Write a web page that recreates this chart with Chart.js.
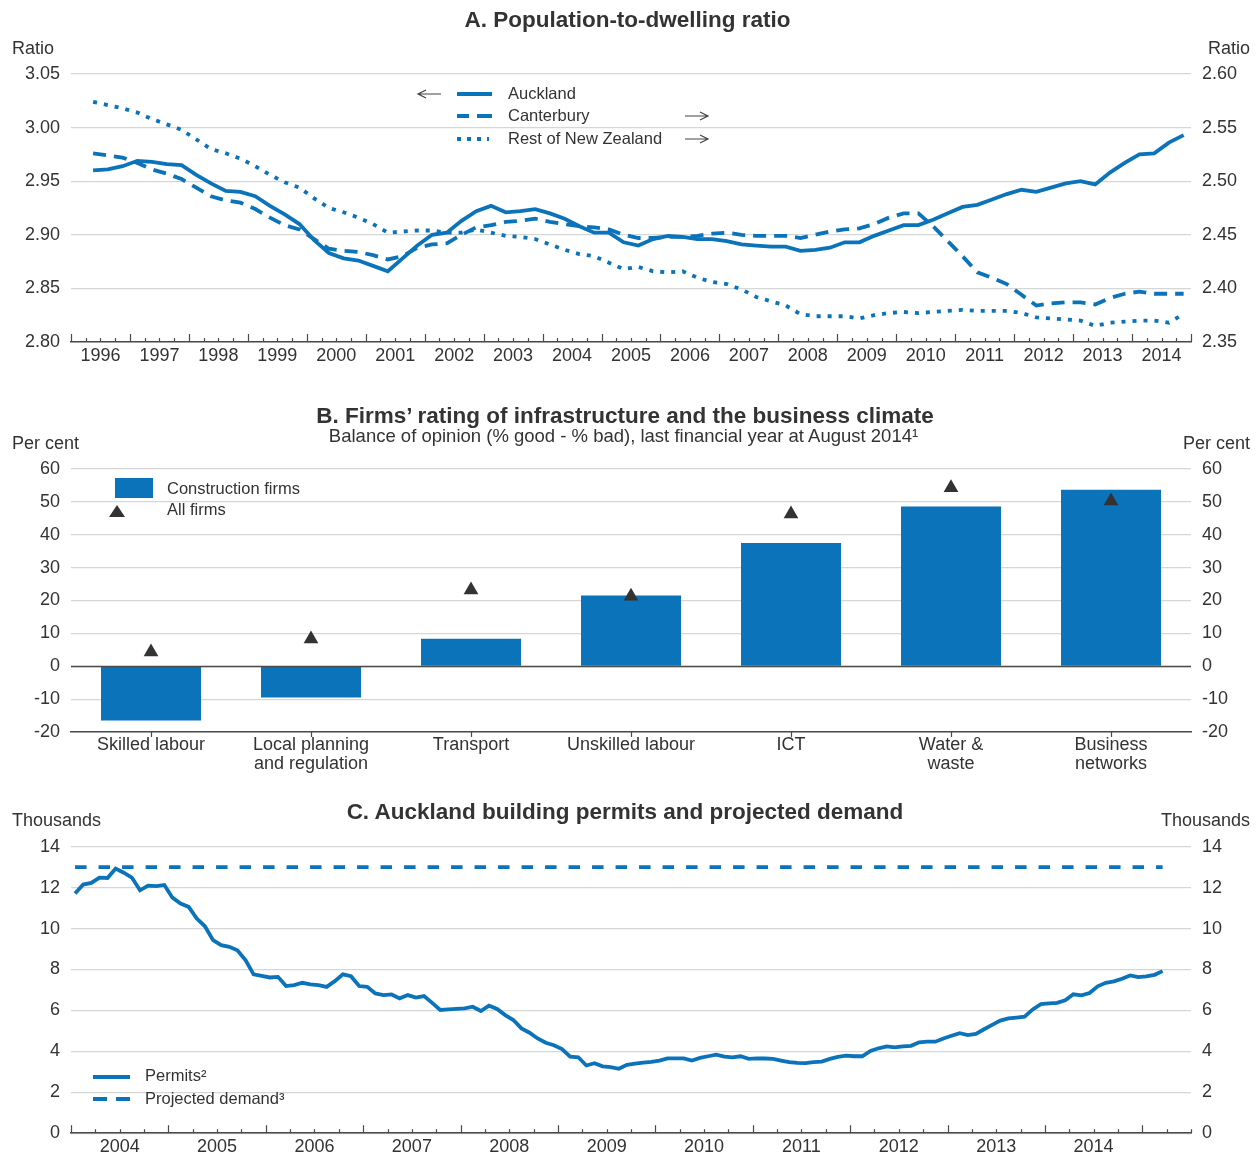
<!DOCTYPE html>
<html><head><meta charset="utf-8">
<script src="https://cdn.jsdelivr.net/npm/chart.js@4.4.1/dist/chart.umd.min.js"></script>
<style>
body{margin:0;background:#fff;width:1259px;height:1155px;position:relative;overflow:hidden;font-family:"Liberation Sans",Arial,sans-serif;color:#333}
canvas{position:absolute;left:0}
.t{position:absolute;white-space:nowrap;line-height:1.2}
.title{font-weight:bold;font-size:22.5px;left:0;width:1250px;text-align:center}
.unit{font-size:18px}
.leg{font-size:16.5px}
svg{position:absolute;left:0;top:0;overflow:visible}
</style></head><body>
<canvas id="cA" width="1259" height="390" style="top:0"></canvas>
<canvas id="cB" width="1259" height="390" style="top:390px"></canvas>
<canvas id="cC" width="1259" height="375" style="top:780px"></canvas>

<div class="t title" style="top:5.5px;width:1255px">A. Population-to-dwelling ratio</div>
<div class="t unit" style="top:38px;left:12px">Ratio</div>
<div class="t unit" style="top:38px;right:9px">Ratio</div>
<div class="t leg" style="top:84px;left:508px">Auckland</div>
<div class="t leg" style="top:106px;left:508px">Canterbury</div>
<div class="t leg" style="top:129px;left:508px">Rest of New Zealand</div>

<div class="t title" style="top:401.5px">B. Firms’ rating of infrastructure and the business climate</div>
<div class="t" style="top:425px;left:0;width:1247px;text-align:center;font-size:18.5px">Balance of opinion (% good - % bad), last financial year at August 2014¹</div>
<div class="t unit" style="top:433px;left:12px">Per cent</div>
<div class="t unit" style="top:433px;right:9px">Per cent</div>
<div class="t leg" style="top:479px;left:167px">Construction firms</div>
<div class="t leg" style="top:500px;left:167px">All firms</div>

<div class="t title" style="top:797.5px">C. Auckland building permits and projected demand</div>
<div class="t unit" style="top:810px;left:12px">Thousands</div>
<div class="t unit" style="top:810px;right:9px">Thousands</div>
<div class="t leg" style="top:1066px;left:145px">Permits²</div>
<div class="t leg" style="top:1089px;left:145px">Projected demand³</div>

<svg width="1259" height="1155">
  <!-- panel A legend -->
  <path d="M441 94 H419 M426 90 L418 94 L426 98" stroke="#444" stroke-width="1.2" fill="none"/>
  <line x1="457" y1="94" x2="492" y2="94" stroke="#0b73b9" stroke-width="4"/>
  <line x1="457" y1="116" x2="469" y2="116" stroke="#0b73b9" stroke-width="4"/>
  <line x1="477" y1="116" x2="492" y2="116" stroke="#0b73b9" stroke-width="4"/>
  <line x1="457" y1="139" x2="489" y2="139" stroke="#0b73b9" stroke-width="4" stroke-dasharray="4 6"/>
  <path d="M685 116 H707 M700 112 L708 116 L700 120" stroke="#444" stroke-width="1.2" fill="none"/>
  <path d="M685 139 H707 M700 135 L708 139 L700 143" stroke="#444" stroke-width="1.2" fill="none"/>
  <!-- panel B legend -->
  <rect x="115" y="478" width="38" height="20" fill="#0b73b9"/>
  <polygon points="109,517 125,517 117,505" fill="#333"/>
  <!-- panel C legend -->
  <line x1="93" y1="1077" x2="130" y2="1077" stroke="#0b73b9" stroke-width="4"/>
  <line x1="93" y1="1099" x2="107" y2="1099" stroke="#0b73b9" stroke-width="4"/>
  <line x1="116" y1="1099" x2="130" y2="1099" stroke="#0b73b9" stroke-width="4"/>
</svg>

<script>
// ---------------- DATA ----------------
// Panel A: quarterly, 1996 Q2 .. 2014 Q4
const yearLabelsA = ['1996','1997','1998','1999','2000','2001','2002','2003','2004','2005','2006','2007','2008','2009','2010','2011','2012','2013','2014'];
const firstQuarterA = [1996, 2]; // year, quarter
const ratioTicksLeft = [2.80, 2.85, 2.90, 2.95, 3.00, 3.05];
const ratioTicksRight = [2.35, 2.40, 2.45, 2.50, 2.55, 2.60];
const aucklandRatio = [
  2.960, 2.961, 2.964,
  2.969, 2.968, 2.966, 2.965,
  2.956, 2.948, 2.941, 2.940,
  2.936, 2.927, 2.919, 2.910,
  2.895, 2.883, 2.878, 2.876,
  2.871, 2.866, 2.878, 2.890,
  2.900, 2.902, 2.913, 2.922,
  2.927, 2.921, 2.922, 2.924,
  2.920, 2.915, 2.908, 2.902,
  2.902, 2.893, 2.890, 2.896,
  2.899, 2.898, 2.896, 2.896,
  2.894, 2.891, 2.890, 2.889,
  2.889, 2.885, 2.886, 2.888,
  2.893, 2.893, 2.899, 2.904,
  2.909, 2.909, 2.914, 2.920,
  2.926, 2.928, 2.933, 2.938,
  2.942, 2.940, 2.944, 2.948,
  2.950, 2.947, 2.958, 2.967,
  2.975, 2.976, 2.986, 2.993
];
const canterburyRatio = [
  2.526, 2.524, 2.522,
  2.517, 2.511, 2.507, 2.502,
  2.494, 2.486, 2.482, 2.480,
  2.474, 2.466, 2.459, 2.455,
  2.446, 2.437, 2.435, 2.434,
  2.431, 2.427, 2.430, 2.438,
  2.441, 2.442, 2.450, 2.457,
  2.459, 2.462, 2.463, 2.465,
  2.462, 2.460, 2.458, 2.457,
  2.455, 2.450, 2.447, 2.447,
  2.448, 2.448, 2.449, 2.451,
  2.452, 2.450, 2.449, 2.449,
  2.449, 2.447, 2.450, 2.453,
  2.455, 2.456, 2.460, 2.466,
  2.470, 2.470, 2.458, 2.444,
  2.430, 2.415, 2.410, 2.404,
  2.394, 2.384, 2.386, 2.387,
  2.387, 2.385, 2.391, 2.395,
  2.397, 2.395, 2.395, 2.395
];
const restOfNZRatio = [
  2.574, 2.571, 2.568,
  2.564, 2.558, 2.553, 2.548,
  2.539, 2.530, 2.526, 2.521,
  2.514, 2.506, 2.499, 2.494,
  2.484, 2.475, 2.471, 2.466,
  2.460, 2.452, 2.453, 2.454,
  2.454, 2.452, 2.452, 2.455,
  2.452, 2.449, 2.448, 2.446,
  2.441, 2.436, 2.432, 2.430,
  2.424, 2.418, 2.420, 2.416,
  2.415, 2.416, 2.410, 2.406,
  2.404, 2.399, 2.392, 2.388,
  2.384, 2.376, 2.374, 2.374,
  2.374, 2.372, 2.375, 2.377,
  2.378, 2.377, 2.378, 2.379,
  2.380, 2.379, 2.379, 2.379,
  2.377, 2.373, 2.372, 2.371,
  2.370, 2.365, 2.368, 2.369,
  2.370, 2.370, 2.368, 2.376
];

// Panel B
const categoriesB = ['Skilled labour', ['Local planning','and regulation'], 'Transport', 'Unskilled labour', 'ICT', ['Water &','waste'], ['Business','networks']];
const constructionFirms = [-16.5, -9.5, 8.4, 21.5, 37.5, 48.6, 53.7];
const allFirms = [4.3, 8.3, 23.2, 21.3, 46.3, 54.3, 50.3];
const percentTicks = [-20, -10, 0, 10, 20, 30, 40, 50, 60];

// Panel C: monthly, Jan 2004 .. Mar 2015
const yearLabelsC = ['2004','2005','2006','2007','2008','2009','2010','2011','2012','2013','2014'];
const permitsStart = [2004, 1]; // year, month
const thousandTicks = [0, 2, 4, 6, 8, 10, 12, 14];
const permits = [
  11.71, 12.15, 12.23, 12.49, 12.47, 12.93, 12.73, 12.49, 11.87, 12.10, 12.07, 12.13,
  11.51, 11.22, 11.06, 10.49, 10.11, 9.43, 9.19, 9.11, 8.94, 8.46, 7.76, 7.69,
  7.61, 7.64, 7.19, 7.24, 7.35, 7.27, 7.24, 7.15, 7.43, 7.76, 7.67, 7.19,
  7.15, 6.83, 6.75, 6.78, 6.59, 6.75, 6.63, 6.70, 6.37, 6.02, 6.05, 6.08,
  6.10, 6.18, 5.97, 6.23, 6.07, 5.77, 5.53, 5.12, 4.91, 4.63, 4.42, 4.30,
  4.11, 3.74, 3.71, 3.31, 3.42, 3.27, 3.23, 3.15, 3.34, 3.40, 3.45, 3.48,
  3.55, 3.66, 3.66, 3.66, 3.55, 3.68, 3.76, 3.84, 3.74, 3.71, 3.76, 3.63,
  3.66, 3.65, 3.63, 3.55, 3.47, 3.44, 3.42, 3.47, 3.50, 3.63, 3.73, 3.79,
  3.76, 3.76, 4.02, 4.15, 4.24, 4.19, 4.24, 4.27, 4.44, 4.47, 4.47, 4.63,
  4.76, 4.89, 4.79, 4.85, 5.08, 5.29, 5.50, 5.61, 5.65, 5.69, 6.05, 6.31,
  6.34, 6.37, 6.50, 6.79, 6.74, 6.85, 7.18, 7.35, 7.42, 7.55, 7.71, 7.63,
  7.66, 7.74, 7.92
];
const demandPeriod = [[2004, 1], [2015, 3]];
const projectedDemand = [13, 13];

// ---------------- STYLE ----------------
const BLUE = '#0b73b9';
const GRID = '#d6d6d6';
const AXIS = '#4a4a4a';
const TXT = '#333';
const FONT = 'Liberation Sans';
const tickFont = {family: FONT, size: 18, lineHeight: 1.2};

const quarterToX = (y, q) => y + (q - 1) / 4 + 0.125;
const monthToX = (y, m) => y + (m - 1) / 12 + 1 / 24;
const seriesA = arr => arr.map((v, i) => {
  const q0 = firstQuarterA[1] - 1 + i;
  return {x: quarterToX(firstQuarterA[0] + Math.floor(q0 / 4), (q0 % 4) + 1), y: v};
});

const inwardTicks = {
  id: 'inwardTicks',
  afterDraw(chart) {
    const xs = chart.scales.x, ctx = chart.ctx, b = chart.chartArea.bottom;
    ctx.save(); ctx.strokeStyle = AXIS; ctx.lineWidth = 1.2;
    for (let k = 0; xs.min + k * 0.25 <= xs.max + 1e-9; k++) {
      const v = xs.min + k * 0.25;
      const px = Math.round(xs.getPixelForValue(v)) + 0.5;
      const major = k % 4 === 0;
      ctx.beginPath(); ctx.moveTo(px, b); ctx.lineTo(px, b - (major ? 8 : 4)); ctx.stroke();
    }
    ctx.restore();
  }
};

const yAxis = (pos, ticks, fmt, grid, width, pad) => ({
  position: pos, min: ticks[0], max: ticks[ticks.length - 1],
  afterBuildTicks: s => { s.ticks = ticks.map(v => ({value: v})); },
  ticks: {callback: fmt, padding: pad, font: tickFont, color: TXT},
  grid: grid ? {color: GRID, lineWidth: 1.2, drawTicks: false} : {display: false, drawTicks: false},
  border: {display: false},
  afterFit: s => { s.width = width; }
});

const common = {
  responsive: false, animation: false, devicePixelRatio: 1,
  plugins: {legend: {display: false}, tooltip: {enabled: false}, title: {display: false}}
};

// ---------------- PANEL A ----------------
new Chart(document.getElementById('cA'), {
  type: 'line',
  data: {datasets: [
    {label: 'Auckland', data: seriesA(aucklandRatio), yAxisID: 'y', borderColor: BLUE, borderWidth: 3.8, pointRadius: 0, tension: 0},
    {label: 'Canterbury', data: seriesA(canterburyRatio), yAxisID: 'y2', borderColor: BLUE, borderWidth: 3.8, borderDash: [13, 8], pointRadius: 0, tension: 0},
    {label: 'Rest of New Zealand', data: seriesA(restOfNZRatio), yAxisID: 'y2', borderColor: BLUE, borderWidth: 3.8, borderDash: [4, 7], pointRadius: 0, tension: 0}
  ]},
  options: Object.assign({}, common, {
    layout: {padding: {top: 74, left: 0, right: 0, bottom: 0}},
    scales: {
      x: {type: 'linear', min: 1996, max: 2015,
          afterBuildTicks: s => { s.ticks = yearLabelsA.map((l, i) => ({value: 1996 + i + 0.5})); },
          ticks: {autoSkip: false, maxRotation: 0, padding: 3.5, font: tickFont, color: TXT, callback: (v, i) => yearLabelsA[i]},
          grid: {display: false, drawTicks: false}, border: {display: true, color: AXIS, width: 1.5},
          afterFit: s => { s.height = 48; }},
      y: yAxis('left', ratioTicksLeft, v => v.toFixed(2), true, 71, 11),
      y2: yAxis('right', ratioTicksRight, v => v.toFixed(2), false, 68, 11)
    }
  }),
  plugins: [inwardTicks]
});

// ---------------- PANEL B ----------------
const panelBExtras = {
  id: 'panelBExtras',
  afterDatasetsDraw(chart) {
    const ctx = chart.ctx, ys = chart.scales.y, xs = chart.scales.x, ca = chart.chartArea;
    ctx.save(); ctx.strokeStyle = AXIS; ctx.lineWidth = 1.5;
    const y0 = Math.round(ys.getPixelForValue(0)) + 0.5;
    ctx.beginPath(); ctx.moveTo(ca.left, y0); ctx.lineTo(ca.right, y0); ctx.stroke();
    ctx.lineWidth = 1.2;
    for (let i = 0; i < categoriesB.length; i++) {
      const px = Math.round(xs.getPixelForValue(i)) + 0.5;
      ctx.beginPath(); ctx.moveTo(px, ca.bottom); ctx.lineTo(px, ca.bottom + 5); ctx.stroke();
    }
    ctx.restore();
  }
};
new Chart(document.getElementById('cB'), {
  type: 'bar',
  data: {labels: categoriesB, datasets: [
    {type: 'line', label: 'All firms', data: allFirms, showLine: false, pointStyle: 'triangle', pointRadius: 8.5, pointBackgroundColor: '#333', pointBorderWidth: 0, yAxisID: 'y'},
    {type: 'bar', label: 'Construction firms', data: constructionFirms, backgroundColor: BLUE, categoryPercentage: 1, barPercentage: 0.625, yAxisID: 'y'}
  ]},
  options: Object.assign({}, common, {
    layout: {padding: {top: 79, left: 0, right: 0, bottom: 0}},
    scales: {
      x: {ticks: {autoSkip: false, maxRotation: 0, padding: 4, font: {family: FONT, size: 18, lineHeight: 1.05}, color: TXT},
          grid: {display: false, drawTicks: false}, border: {display: true, color: AXIS, width: 1.5},
          afterFit: s => { s.height = 48; }},
      y: yAxis('left', percentTicks, v => String(v), true, 71, 11),
      y2: yAxis('right', percentTicks, v => String(v), false, 68, 11)
    }
  }),
  plugins: [panelBExtras]
});

// ---------------- PANEL C ----------------
const permitsData = permits.map((v, i) => {
  const m0 = permitsStart[1] - 1 + i;
  return {x: monthToX(permitsStart[0] + Math.floor(m0 / 12), (m0 % 12) + 1), y: v};
});
const demandData = projectedDemand.map((v, i) => ({x: monthToX(demandPeriod[i][0], demandPeriod[i][1]), y: v}));
new Chart(document.getElementById('cC'), {
  type: 'line',
  data: {datasets: [
    {label: 'Permits²', data: permitsData, yAxisID: 'y', borderColor: BLUE, borderWidth: 3.8, pointRadius: 0, tension: 0},
    {label: 'Projected demand³', data: demandData, yAxisID: 'y', borderColor: BLUE, borderWidth: 3.8, borderDash: [11.5, 12], pointRadius: 0, tension: 0}
  ]},
  options: Object.assign({}, common, {
    layout: {padding: {top: 66.7, left: 0, right: 0, bottom: 0}},
    scales: {
      x: {type: 'linear', min: 2004, max: 2015.5,
          afterBuildTicks: s => { s.ticks = yearLabelsC.map((l, i) => ({value: 2004 + i + 0.5})); },
          ticks: {autoSkip: false, maxRotation: 0, padding: 3, font: tickFont, color: TXT, callback: (v, i) => yearLabelsC[i]},
          grid: {display: false, drawTicks: false}, border: {display: true, color: AXIS, width: 1.5},
          afterFit: s => { s.height = 375 - 353.3; }},
      y: yAxis('left', thousandTicks, v => String(v), true, 71, 11),
      y2: yAxis('right', thousandTicks, v => String(v), false, 68, 11)
    }
  }),
  plugins: [inwardTicks]
});
</script>
</body></html>
